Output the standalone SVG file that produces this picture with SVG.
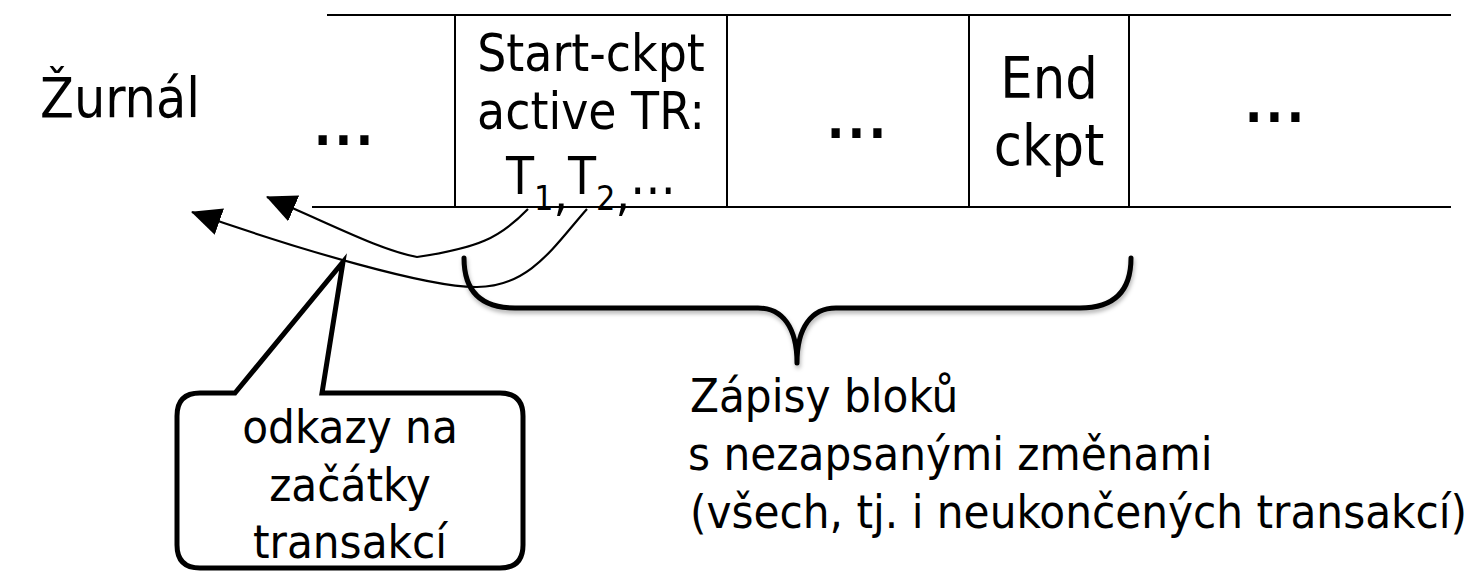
<svg xmlns="http://www.w3.org/2000/svg" width="1468" height="572" viewBox="0 0 1468 572">
<style>
.t{font-family:'DejaVu Sans Condensed','DejaVu Sans',sans-serif;fill:#000}
.m{text-anchor:middle}
.el{font-weight:bold;letter-spacing:3px}
.ln{stroke:#000;stroke-width:2;fill:none}
.cv{stroke:#000;stroke-width:2.2;fill:none;marker-end:url(#ah)}
.thick{stroke:#000;stroke-width:5;fill:none;stroke-linejoin:round;stroke-linecap:round}
</style>
<defs>
<marker id="ah" markerUnits="userSpaceOnUse" markerWidth="30" markerHeight="30" viewBox="0 0 30 30" refX="29" refY="15" orient="auto">
<path d="M0,1 L30,15 L0,29 Z" fill="#000"/>
</marker>
<filter id="sh" x="-5%" y="-20%" width="110%" height="150%">
<feDropShadow dx="1" dy="3" stdDeviation="2" flood-color="#000" flood-opacity="0.3"/>
</filter>
</defs>
<rect width="1468" height="572" fill="#fff"/>
<g id="label-zurnal"><text class="t" x="40" y="117" font-size="55">Žurnál</text></g>
<g id="log">
<line class="ln" x1="327" y1="15" x2="1451" y2="15"/>
<line class="ln" x1="312" y1="207" x2="1451" y2="207"/>
<line class="ln" x1="455" y1="15" x2="455" y2="207"/>
<line class="ln" x1="727" y1="15" x2="727" y2="207"/>
<line class="ln" x1="969" y1="15" x2="969" y2="207"/>
<line class="ln" x1="1129" y1="15" x2="1129" y2="207"/>
</g>
<g id="cell-1"><text class="t m el" x="345" y="145" font-size="52">...</text></g>
<g id="cell-start">
<text class="t m" x="591" y="71" font-size="51">Start-ckpt</text>
<text class="t m" x="591" y="129" font-size="51">active TR:</text>
<text class="t m" x="591" y="194" font-size="51">T<tspan font-size="34" dy="16">1</tspan><tspan>,</tspan><tspan dy="-16">T</tspan><tspan font-size="34" dy="16">2</tspan><tspan>,</tspan><tspan dy="-16">…</tspan></text>
</g>
<g id="cell-3"><text class="t m el" x="858" y="138" font-size="52">...</text></g>
<g id="cell-end">
<text class="t m" x="1049" y="98" font-size="57">End</text>
<text class="t m" x="1049" y="165" font-size="57">ckpt</text>
</g>
<g id="cell-5"><text class="t m el" x="1276" y="122" font-size="52">...</text></g>
<g id="connectors">
<path class="cv" d="M528,209 C500,238 478,248 417,257 C380,250 335,226 267,197"/>
<path class="cv" d="M587,209 C555,245 530,287 477,287 C430,288 300,250 192,212"/>
</g>
<g id="brace" filter="url(#sh)">
<path class="thick" d="M464,258 C464,290 480,308 515,308 L758,308 C783,308 797,328 797,363 C797,328 811,308 836,308 L1080,308 C1115,308 1131,290 1131,258"/>
</g>
<g id="brace-label">
<text class="t" x="690" y="412" font-size="47">Zápisy bloků</text>
<text class="t" x="688" y="470" font-size="47">s nezapsanými změnami</text>
<text class="t" x="690" y="528" font-size="47">(všech, tj. i neukončených transakcí)</text>
</g>
<g id="callout">
<path d="M235,393 L343,262 L322,393 L500,393 Q523,393 523,416 L523,545 Q523,568 500,568 L200,568 Q177,568 177,545 L177,416 Q177,393 200,393 Z" fill="#fff" stroke="#000" stroke-width="5" stroke-linejoin="miter"/>
<text class="t m" x="350" y="443" font-size="47">odkazy na</text>
<text class="t m" x="350" y="501" font-size="47">začátky</text>
<text class="t m" x="350" y="558" font-size="47">transakcí</text>
</g>
</svg>
